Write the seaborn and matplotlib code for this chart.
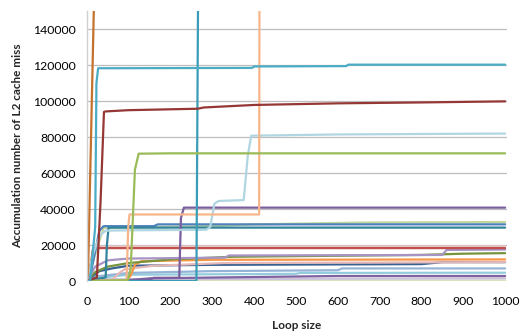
import matplotlib
matplotlib.use("Agg")
import matplotlib.pyplot as plt
import seaborn as sns
import pandas as pd

# ---- data ----
names = ["pale_green", "lavender_gray", "dark_purple", "light_aqua", "steel_blue",
         "dark_blue", "pink", "orange", "olive", "lavender", "pink_top", "red",
         "light_green", "blue", "dark_teal", "purple", "light_blue", "salmon",
         "teal_vert", "green", "dark_red", "aqua", "brown_orange"]

colors = ["#D7E4BD", "#CCC1DA", "#7F63A1", "#93CDDD", "#95B3D7",
          "#376092", "#E6B9B8", "#F79646", "#77933C", "#A793C4", "#E8C4C3", "#C0504D",
          "#C3D69B", "#4F81BD", "#31849B", "#7B5E9E", "#B0D6E2", "#F7B58A",
          "#3A9DB8", "#9BBB59", "#953735", "#4BACC6", "#C4712D"]

xs = {
    "pale_green":    [0, 1000],
    "lavender_gray": [0, 50, 1000],
    "dark_purple":   [0, 100, 150, 600, 1000],
    "light_aqua":    [0, 20, 100, 500, 510, 900, 1000],
    "steel_blue":    [0, 20, 100, 300, 600, 610, 1000],
    "dark_blue":     [0, 15, 30, 60, 100, 300, 800, 850, 1000],
    "pink":          [0, 60, 75, 90, 160, 330, 1000],
    "orange":        [0, 95, 105, 115, 130, 300, 1000],
    "olive":         [0, 20, 50, 100, 200, 350, 800, 900, 1000],
    "lavender":      [0, 20, 50, 100, 330, 340, 850, 860, 1000],
    "pink_top":      [0, 20, 1000],
    "red":           [0, 10, 15, 1000],
    "light_green":   [0, 20, 40, 300, 400, 650, 1000],
    "blue":          [0, 10, 30, 40, 160, 170, 1000],
    "dark_teal":     [0, 45, 48, 52, 1000],
    "purple":        [0, 100, 150, 160, 221, 225, 232, 1000],
    "light_blue":    [0, 15, 30, 45, 100, 285, 295, 305, 315, 375, 385, 393, 600, 1000],
    "salmon":        [0, 95, 99, 102, 412, 413],
    "teal_vert":     [0, 150, 262, 267],
    "green":         [0, 98, 105, 115, 124, 200, 1000],
    "dark_red":      [0, 24, 33, 41, 45, 100, 265, 280, 400, 600, 800, 1000],
    "aqua":          [0, 8, 20, 23, 27, 395, 400, 620, 625, 1000],
    "brown_orange":  [0, 3, 19],
}

ys = {
    "pale_green":    [200, 300],
    "lavender_gray": [0, 1000, 1500],
    "dark_purple":   [0, 500, 1500, 2800, 2800],
    "light_aqua":    [0, 1500, 3500, 4000, 4500, 4600, 4600],
    "steel_blue":    [0, 2500, 4500, 5500, 6000, 7000, 7000],
    "dark_blue":     [0, 3000, 5500, 7000, 8500, 9000, 9400, 10500, 10500],
    "pink":          [0, 500, 4000, 6500, 8500, 10000, 10500],
    "orange":        [0, 300, 3000, 9000, 11000, 11800, 12000],
    "olive":         [0, 5000, 8000, 10000, 12000, 13500, 14500, 15200, 15500],
    "lavender":      [0, 8000, 11500, 12500, 13000, 14200, 14500, 17300, 17500],
    "pink_top":      [0, 19200, 19300],
    "red":           [0, 10000, 18300, 18300],
    "light_green":   [0, 15000, 29500, 30500, 31500, 32500, 32800],
    "blue":          [0, 5000, 28000, 30500, 30500, 31500, 31500],
    "dark_teal":     [0, 2000, 20000, 29700, 29700],
    "purple":        [0, 0, 800, 1800, 1800, 35000, 40800, 40800],
    "light_blue":    [0, 15000, 25000, 28000, 28200, 28500, 30000, 43000, 44500,
                      45000, 70000, 80800, 81500, 82000],
    "salmon":        [0, 500, 30000, 37000, 37000, 200000],
    "teal_vert":     [0, 0, 0, 200000],
    "green":         [0, 500, 7000, 62000, 70800, 71000, 71000],
    "dark_red":      [0, 2000, 45000, 94000, 94300, 95000, 95800, 96500, 97900,
                      98800, 99300, 99900],
    "aqua":          [0, 0, 30000, 110000, 118300, 118500, 119300, 119500, 120300, 120300],
    "brown_orange":  [0, 5000, 175000],
}

y_ticks = [0, 20000, 40000, 60000, 80000, 100000, 120000, 140000]
x_ticks = [0, 100, 200, 300, 400, 500, 600, 700, 800, 900, 1000]

# ---- build long table ----
rows = []
for n in names:
    for i, (xv, yv) in enumerate(zip(xs[n], ys[n])):
        rows.append({"series": n, "order": i, "x": xv, "y": yv})
df = pd.DataFrame(rows)

sns.set_theme(style="white")
plt.rcParams["font.family"] = ["Lato", "DejaVu Sans"]

fig = plt.figure(figsize=(5.23, 3.31), dpi=100)
ax = fig.add_axes([0.166, 0.151, 0.803, 0.815])

for y in y_ticks:
    ax.axhline(y, color="#BEBEBE", lw=0.9, zorder=0.5)

sns.lineplot(data=df, x="x", y="y", hue="series", hue_order=names,
             palette=dict(zip(names, colors)), sort=False, estimator=None,
             units="series", legend=False, linewidth=1.6, ax=ax)

ax.set_xlim(0, 1004)
ax.set_ylim(0, 150000)
ax.set_xticks(x_ticks)
ax.set_yticks(y_ticks)
ax.set_xticklabels([str(v) for v in x_ticks])
ax.set_yticklabels([str(v) for v in y_ticks])
ax.tick_params(axis="both", labelsize=8.8, colors="#000000", length=3,
               width=0.8, pad=5, direction="out")
ax.tick_params(axis="both", color="#BEBEBE")
ax.tick_params(axis="x", pad=8)

for s in ["top", "right", "bottom"]:
    ax.spines[s].set_visible(False)
ax.spines["left"].set_color("#D0D0D0")
ax.spines["left"].set_linewidth(1.0)

ax.set_xlabel("Loop size", fontsize=8.5, fontweight="bold", labelpad=9)
ax.set_ylabel("Accumulation number of L2 cache miss", fontsize=8.5,
              fontweight="bold", labelpad=7)

fig.savefig("out.png", dpi=100)
